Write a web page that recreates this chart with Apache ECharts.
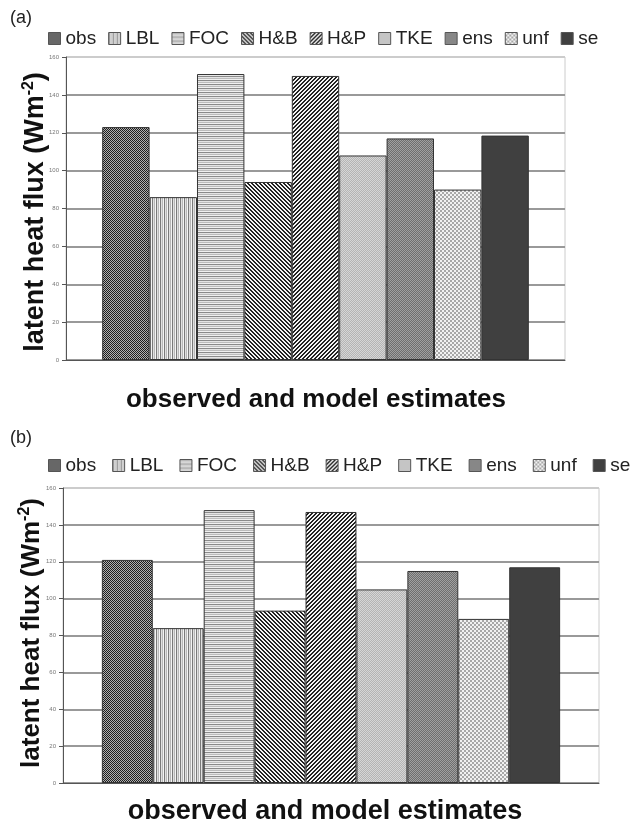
<!DOCTYPE html>
<html><head><meta charset="utf-8">
<script src="https://cdn.jsdelivr.net/npm/echarts@6/dist/echarts.min.js"></script>
<style>html,body{margin:0;padding:0;background:#fff}#c{width:635px;height:831px}</style>
</head><body><div id="c"></div>
<script>
// ---- data ----
const seriesNames = ['obs','LBL','FOC','H&B','H&P','TKE','ens','unf','se'];
const valuesA = [123, 86, 151, 94, 150, 108, 117, 90, 118.5];
const valuesB = [121, 84, 148, 93.5, 147, 105, 115, 89, 117];
const yTicks = [0, 20, 40, 60, 80, 100, 120, 140, 160];
const panelLabels = ['(a)', '(b)'];
const xTitle = 'observed and model estimates';
const yTitle = 'latent heat flux (Wm';

// ---- patterns ----
function pat(w, h, fn) {
  const c = document.createElement('canvas'); c.width = w; c.height = h;
  const g = c.getContext('2d');
  for (let y = 0; y < h; y++) for (let x = 0; x < w; x++) { g.fillStyle = fn(x, y); g.fillRect(x, y, 1, 1); }
  return { image: c, repeat: 'repeat' };
}
const fills = [
  pat(2, 2, (x, y) => ((x + y) % 2 ? '#b0b0b0' : '#1e1e1e')),           // obs
  pat(4, 1, (x) => ['#7a7a7a', '#e0e0e0', '#b8b8b8', '#f4f4f4'][x]),      // LBL vertical
  pat(1, 4, (x, y) => ['#8a8a8a', '#e4e4e4', '#bcbcbc', '#f0f0f0'][y]),   // FOC horizontal
  pat(4, 4, (x, y) => (((x - y + 8) % 4) < 2 ? '#222' : '#f4f4f4')),      // H&B
  pat(4, 4, (x, y) => (((x + y) % 4) < 2 ? '#222' : '#f4f4f4')),          // H&P
  pat(2, 2, (x, y) => ((x + y) % 2 ? '#b4b4b4' : '#d6d6d6')),           // TKE
  pat(2, 2, (x, y) => ((x + y) % 2 ? '#6e6e6e' : '#a0a0a0')),           // ens
  pat(4, 4, (x, y) => ((((x >> 1) + (y >> 1)) % 2) ? '#a8a8a8' : '#f2f2f2')), // unf
  '#404040'                                                              // se
];

const FONT = 'Liberation Sans, Arial, sans-serif';
const chart = echarts.init(document.getElementById('c'), null, { renderer: 'canvas' });

function axesFor(i) {
  return {
    x: {
      type: 'category', gridIndex: i, data: [''],
      axisLine: { lineStyle: { color: '#555', width: 1 } },
      axisTick: { show: false }, axisLabel: { show: false }
    },
    y: {
      type: 'value', gridIndex: i, min: 0, max: 160, interval: 20,
      axisLine: { show: true, lineStyle: { color: '#555', width: 1 } },
      axisTick: { show: true, length: 4, inside: false, lineStyle: { color: '#555' } },
      axisLabel: { fontSize: 6, color: '#777', margin: 7, fontFamily: FONT,
        formatter: v => (yTicks.indexOf(v) >= 0 ? String(v) : '') },
      splitLine: { show: true, lineStyle: {
        color: ['#999', '#999', '#999', '#999', '#999', '#999', '#999', '#999', '#ccc'], width: 2 } }
    }
  };
}
const a0 = axesFor(0), a1 = axesFor(1);

const series = [];
[valuesA, valuesB].forEach((vals, p) => {
  seriesNames.forEach((n, i) => {
    series.push({
      type: 'bar', name: n, xAxisIndex: p, yAxisIndex: p, data: [vals[i]],
      barGap: '0%', barCategoryGap: '14.5%',
      itemStyle: { color: fills[i], borderColor: '#333', borderWidth: 1 },
      emphasis: { disabled: true }
    });
  });
});

function legendAt(left, top, gap) {
  return {
    data: seriesNames, left: left, top: top, width: 620, padding: 0,
    itemGap: gap, itemWidth: 12, itemHeight: 12,
    icon: 'rect', selectedMode: false,
    itemStyle: { borderColor: '#555', borderWidth: 1 },
    textStyle: { fontSize: 19, color: '#222', fontFamily: FONT }
  };
}

function yTitleText(x, y, size) {
  return {
    type: 'text', x: x, y: y, rotation: Math.PI / 2,
    style: {
      text: yTitle + '{sup|-2}' + ')', font: 'bold ' + size + 'px ' + FONT, fill: '#111',
      align: 'center', verticalAlign: 'middle',
      rich: { sup: { fontSize: Math.round(size * 0.6), fontWeight: 'bold', fontFamily: FONT, fill: '#111', verticalAlign: 'bottom', padding: [0, 0, Math.round(size * 0.55), 0] } }
    }
  };
}

chart.setOption({
  animation: false,
  grid: [
    { left: 66, right: 70, top: 57, bottom: 471, show: true, borderColor: '#ccc', borderWidth: 1, backgroundColor: '#fff' },
    { left: 63, right: 36, top: 488, bottom: 48, show: true, borderColor: '#ccc', borderWidth: 1, backgroundColor: '#fff' }
  ],
  xAxis: [a0.x, a1.x],
  yAxis: [a0.y, a1.y],
  legend: [legendAt(48, 29, 12), legendAt(48, 456, 16)],
  series: series,
  graphic: [
    { type: 'text', left: 10, top: 9, style: { text: panelLabels[0], font: '18px ' + FONT, fill: '#222' } },
    { type: 'text', left: 10, top: 429, style: { text: panelLabels[1], font: '18px ' + FONT, fill: '#222' } },
    yTitleText(36, 212, 27),
    yTitleText(32, 633, 26),
    { type: 'text', x: 316, y: 400, style: { text: xTitle, font: 'bold 26px ' + FONT, fill: '#111', align: 'center', verticalAlign: 'middle' } },
    { type: 'text', x: 325, y: 812, style: { text: xTitle, font: 'bold 27px ' + FONT, fill: '#111', align: 'center', verticalAlign: 'middle' } }
  ]
});
</script></body></html>
